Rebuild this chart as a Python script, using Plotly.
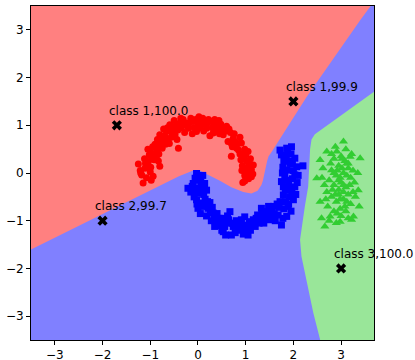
import plotly.graph_objects as go

# ---------------- data ----------------
red_x = [-1.25, -1.18, -1.15, -1.11, -1.21, -1.08, -1.04, -0.94, -1.12, -0.99,
         -0.97, -0.87, -0.80, -1.02, -0.92, -0.85, -1.05, -0.95, -0.83, -0.90,
         -0.87, -0.78, -0.73, -0.85, -0.70, -0.80, -0.66, -0.75, -0.62, -0.72,
         -0.59, -0.48, -0.41, -0.52, -0.45, -0.38, -0.55, -0.42, -0.31, -0.35, -0.28, -0.50,
         -0.20, -0.10, -0.03, -0.15, -0.22, 0.00, -0.05, 0.05, -0.12, 0.08, 0.02, 0.12,
         0.18, 0.28, 0.32, 0.22, 0.38, 0.42, 0.35, 0.25, 0.48, 0.45, 0.53, 0.60,
         0.63, 0.74, 0.58, 0.68, 0.81, 0.70, 0.78, 0.91, 0.85, 0.72, 0.88,
         0.95, 1.02, 1.05, 0.90, 0.98, 1.10, 0.93, 1.08, 1.16, 1.00,
         1.12, 1.09, 0.98, 1.04, 0.94, 1.15, 0.98, 1.06,
         -1.20, -1.10, -1.00, -0.96, -0.88, -0.82, -0.76, -0.68, -0.64, -0.56, -0.50, -0.44,
         -0.36, -0.26, -0.18, -0.08, 0.02, 0.10, 0.15, 0.20, 0.30, 0.36, 0.44, 0.50, 0.56,
         0.65, 0.70, 0.76, 0.84, 0.88, 0.96, 1.00, 1.07, 1.12, 0.92, -0.98, -0.60, 0.40]
red_y = [0.19, -0.04, -0.21, 0.10, 0.05, -0.10, 0.24, -0.07, 0.30, 0.12,
         0.42, 0.35, 0.14, 0.38, 0.28, 0.45, 0.50, 0.55, 0.25, 0.60,
         0.52, 0.62, 0.66, 0.70, 0.78, 0.80, 0.87, 0.52, 0.72, 0.92,
         1.01, 0.80, 0.52, 0.95, 1.02, 1.05, 0.85, 0.90, 1.12, 0.95, 0.85, 1.10,
         0.94, 1.08, 0.87, 1.15, 1.05, 1.00, 1.12, 0.95, 0.82, 1.05, 1.18, 0.88,
         0.94, 1.08, 0.84, 1.12, 0.98, 0.94, 1.12, 0.78, 1.02, 0.82, 0.80, 0.98,
         0.66, 0.73, 0.88, 0.85, 0.52, 0.35, 0.65, 0.63, 0.48, 0.55, 0.75,
         0.38, 0.24, 0.45, 0.28, 0.50, 0.30, 0.15, 0.15, 0.17, 0.10,
         0.07, -0.07, -0.17, 0.02, -0.20, -0.02, -0.05, -0.12,
         0.00, 0.20, 0.02, 0.30, 0.58, 0.40, 0.75, 0.60, 0.95, 0.75, 0.90, 0.70,
         1.15, 1.00, 1.05, 0.95, 1.08, 1.15, 1.02, 1.05, 0.95, 1.02, 1.10, 0.90, 0.95,
         0.92, 0.62, 0.82, 0.62, 0.40, 0.30, 0.38, 0.22, -0.08, 0.05, -0.15, 0.62, 0.88]

blue_x = [-0.03, -0.06, -0.21, -0.10, 0.14, 0.04, 0.18, 0.02, -0.15, 0.08, -0.08, 0.10,
          -0.03, 0.11, 0.00, 0.21, 0.05, 0.15, 0.25, -0.02, 0.18, 0.30,
          0.32, 0.39, 0.53, 0.28, 0.45, 0.40, 0.60, 0.50, 0.35, 0.62,
          0.67, 0.74, 0.70, 0.53, 0.80, 0.85, 0.91, 0.88, 0.78, 0.95, 1.02, 1.05, 0.98, 1.10,
          1.16, 1.20, 1.25, 1.30, 1.33, 1.38, 1.44, 1.51, 1.48, 1.40, 1.58, 1.55, 1.62, 1.75,
          1.72, 1.68, 1.86, 1.89, 1.79, 2.00, 1.80, 1.95, 1.70, 1.92,
          1.93, 1.79, 2.03, 1.86, 2.03, 1.90, 1.82, 1.98, 2.08, 1.75,
          1.86, 2.07, 1.93, 2.03, 1.75, 1.72, 1.86, 1.96, 1.80, 1.95, 1.85, 2.00, 1.78, 2.20,
          -0.12, 0.00, 0.06, -0.05, 0.12, 0.20, 0.08, 0.26, 0.34, 0.44, 0.48, 0.56, 0.64,
          0.72, 0.82, 0.90, 1.00, 1.08, 1.14, 1.22, 1.28, 1.35, 1.46, 1.54, 1.60, 1.66,
          1.78, 1.84, 1.90, 1.97, 2.05, 1.83, 1.77, 1.92, 1.88, 1.98, 2.10, 0.58, 0.95]
blue_y = [-0.01, -0.11, -0.32, -0.22, -0.22, -0.42, -0.36, -0.15, -0.40, -0.30, -0.50, -0.05,
          -0.56, -0.63, -0.74, -0.74, -0.85, -0.55, -0.62, -0.65, -0.90, -0.72,
          -0.84, -0.98, -0.95, -1.00, -1.10, -0.85, -1.05, -1.20, -1.12, -0.90,
          -0.81, -1.12, -1.30, -1.23, -1.00, -1.20, -0.98, -1.16, -1.25, -1.10, -1.09, -1.30, -0.92, -1.20,
          -0.98, -1.12, -0.88, -0.95, -0.74, -1.05, -0.81, -0.98, -0.70, -0.92, -0.70, -0.88, -1.00, -1.09,
          -0.60, -0.88, -0.91, -0.70, -0.46, -0.56, -0.75, -0.80, -0.72, -0.50,
          -0.36, -0.29, -0.29, -0.15, -0.04, -0.22, -0.05, -0.12, -0.20, -0.18,
          0.06, 0.13, 0.20, 0.31, 0.38, 0.48, 0.52, 0.55, 0.25, 0.40, 0.35, 0.05, 0.12, 0.15,
          -0.28, -0.32, -0.18, -0.40, -0.45, -0.60, -0.70, -0.80, -0.95, -0.95, -1.05, -1.12, -0.98,
          -1.05, -1.10, -1.05, -1.18, -1.02, -1.08, -0.95, -1.05, -0.85, -0.95, -0.80, -0.85, -0.65,
          -0.95, -0.60, -0.65, -0.40, -0.45, -0.35, 0.00, 0.25, 0.45, 0.20, -0.05, -1.30, -1.28]

green_x = [3.05, 2.70, 2.91, 2.56, 3.40, 3.19, 2.49, 2.80, 3.12, 3.36, 2.59, 2.66, 2.98, 3.22,
           3.26, 2.56, 2.77, 2.85, 3.00, 3.10, 3.15, 2.95, 3.05, 2.90, 3.20, 3.25, 2.75, 2.85,
           3.00, 3.10, 2.95, 3.15, 2.70, 2.80, 3.05, 2.90, 3.20, 3.30, 2.65, 2.60, 2.98, 3.10,
           2.85, 2.72, 3.00, 2.90, 3.15, 3.28, 3.08, 2.88, 2.78, 2.62, 3.35, 3.22, 2.95, 3.05,
           2.82, 2.68, 3.18, 2.92, 3.02, 2.98, 3.12, 2.75, 3.38,
           2.95, 3.05, 2.88, 3.12, 2.98, 3.08, 2.85, 3.02, 3.15, 2.92, 2.80, 3.25]
green_y = [0.66, 0.45, 0.45, 0.27, 0.31, 0.34, -0.11, 0.06, 0.20, -0.36, -0.95, -1.12, -1.02, -0.98,
           -0.91, -0.60, -0.91, 0.30, 0.35, 0.50, 0.10, 0.15, 0.00, -0.05, -0.10, 0.05, -0.15, -0.25,
           -0.20, -0.30, -0.35, -0.45, -0.40, -0.50, -0.55, -0.60, -0.65, -0.50, -0.25, -0.10, -0.75, -0.80,
           -0.80, -0.70, -0.90, -1.05, -0.95, -0.20, 0.25, 0.55, 0.20, 0.10, 0.00, 0.40, -0.45, -0.40,
           -0.35, -0.55, -0.25, 0.05, 0.10, -0.10, -0.60, -1.00, -0.70,
           -0.15, -0.25, -0.45, -0.05, -0.55, -0.70, 0.00, 0.30, 0.20, -0.85, 0.40, -0.40]

test_x = [-1.7, 2.0, -2.0, 3.0]
test_y = [1.0, 1.5, -1.0, -2.0]
test_labels = ["class 1,100.0", "class 1,99.9", "class 2,99.7", "class 3,100.0"]

# decision-region boundaries
red_region_x = [-4.0, -4.0, 3.9, 3.62, 3.40, 2.28, 1.55, 1.48, 1.45, 1.42, 1.40, 1.36, 1.33, 1.25,
                1.12, 0.95, 0.70, 0.46, 0.20, 0.04, -0.10, -0.40, -4.0]
red_region_y = [-1.85, 4.0, 4.0, 3.5, 3.2, 1.60, 0.45, 0.35, 0.25, 0.10, -0.03, -0.16, -0.25, -0.37,
                -0.43, -0.40, -0.30, -0.16, -0.03, 0.05, 0.05, -0.07, -1.85]
green_region_x = [4.2, 2.45, 2.38, 2.35, 2.33, 2.31, 2.24, 2.17, 2.14, 2.17, 2.28, 2.42, 2.56, 2.58, 4.2]
green_region_y = [2.07, 0.81, 0.70, 0.50, 0.10, -0.29, -0.70, -1.19, -1.40, -1.75, -2.31, -2.94, -3.49, -4.0, -4.0]

x_range = [-3.5, 3.69]
y_range = [-3.5, 3.5]
tick_vals = [-3, -2, -1, 0, 1, 2, 3]

# ---------------- figure ----------------
fig = go.Figure()
fig.add_trace(go.Scatter(x=red_region_x, y=red_region_y, fill="toself", mode="lines",
                         line=dict(width=0), fillcolor="#ff8080", hoverinfo="skip"))
fig.add_trace(go.Scatter(x=green_region_x, y=green_region_y, fill="toself", mode="lines",
                         line=dict(width=0), fillcolor="#99e699", hoverinfo="skip"))
fig.add_trace(go.Scatter(x=red_x, y=red_y, mode="markers",
                         marker=dict(symbol="circle", size=7, color="red", line=dict(width=0))))
fig.add_trace(go.Scatter(x=blue_x, y=blue_y, mode="markers",
                         marker=dict(symbol="square", size=7, color="blue", line=dict(width=0))))
fig.add_trace(go.Scatter(x=green_x, y=green_y, mode="markers",
                         marker=dict(symbol="triangle-up", size=8, color="limegreen", line=dict(width=0))))
fig.add_trace(go.Scatter(x=test_x, y=test_y, mode="markers",
                         marker=dict(symbol="x", size=9, color="black", line=dict(width=0))))

for tx, ty, lab in zip(test_x, test_y, test_labels):
    fig.add_annotation(x=tx - 0.2, y=ty + 0.2, text=lab, showarrow=False,
                       xanchor="left", yanchor="bottom", yshift=-4,
                       font=dict(family="DejaVu Sans", size=12, color="black"))

axis_common = dict(showgrid=False, zeroline=False, showline=True, mirror=True,
                   linecolor="black", linewidth=1, ticks="outside", ticklen=4,
                   tickwidth=1, tickcolor="black", tickvals=tick_vals,
                   tickfont=dict(family="DejaVu Sans", size=12, color="black"))
fig.update_layout(
    width=415, height=360, showlegend=False,
    margin=dict(l=31, r=41, t=6, b=20),
    paper_bgcolor="white", plot_bgcolor="#8080ff",
    font=dict(family="DejaVu Sans", size=12, color="black"),
    xaxis=dict(range=x_range, automargin=False, **axis_common),
    yaxis=dict(range=y_range, automargin=False, **axis_common),
)
fig.write_html("out.html", post_script="document.body.style.margin='0';",
               config={"displayModeBar": False})
